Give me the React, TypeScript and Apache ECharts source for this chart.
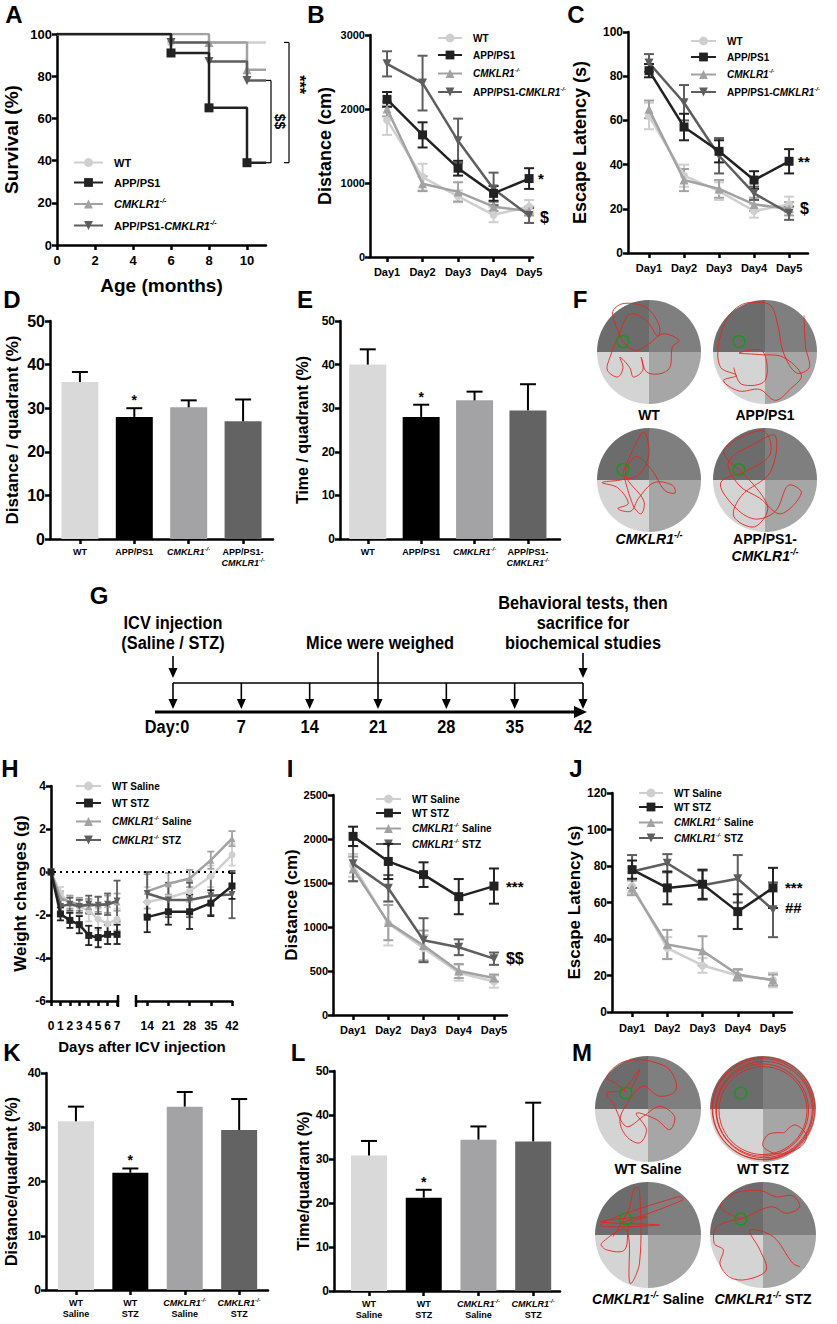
import React, { useEffect, useRef } from 'react';
import * as echarts from 'echarts';

const FONT = "'Liberation Sans', Arial, Helvetica, sans-serif";

/* ======================= DATA ======================= */
// A – survival (%), Kaplan–Meier steps [month, value]
const monthTicks = [0, 2, 4, 6, 8, 10];
const survWT = [[0, 100], [6, 96], [11, 96]];
const survAPP = [[0, 100], [6, 91], [8, 65], [10, 39], [11, 39]];
const survKO = [[0, 100], [8, 96], [10, 83], [11, 83]];
const survDKO = [[0, 100], [6, 96], [8, 87], [10, 78], [11, 78]];

const groupsA = ['WT', 'APP/PS1', 'CMKLR1-/-', 'APP/PS1-CMKLR1-/-'];
const groupsH = ['WT Saline', 'WT STZ', 'CMKLR1-/- Saline', 'CMKLR1-/- STZ'];
const trainDays = [1, 2, 3, 4, 5];
const dayLabels = ['Day1', 'Day2', 'Day3', 'Day4', 'Day5'];

// B – distance (cm)
const bWT = [1850, 1080, 820, 570, 680];
const bWTe = [200, 180, 80, 100, 90];
const bAPP = [2130, 1650, 1200, 860, 1060];
const bAPPe = [100, 170, 100, 100, 140];
const bKO = [2000, 990, 880, 680, 620];
const bKOe = [100, 100, 130, 60, 60];
const bDKO = [2610, 2350, 1570, 920, 560];
const bDKOe = [170, 370, 300, 220, 100];

// C – escape latency (s)
const cWT = [62, 35, 28, 19, 22];
const cWTe = [6, 5, 4, 3, 3.5];
const cAPP = [82.5, 57, 46, 33, 41.5];
const cAPPe = [3, 6, 5, 4, 5.5];
const cKO = [65, 33, 29, 22, 20];
const cKOe = [4, 5, 4, 3, 3];
const cDKO = [86, 68, 44, 27, 18];
const cDKOe = [4, 8, 8, 3, 3];

// D / E – bars
const catsDE = ['WT', 'APP/PS1', 'CMKLR1-/-', 'APP/PS1-\nCMKLR1-/-'];
const dVals = [36, 28, 30.2, 27];
const dErr = [2.3, 2, 1.6, 5];
const eVals = [40, 28, 31.8, 29.5];
const eErr = [3.5, 2.8, 2, 6];

// G – timeline
const timelineDays = [0, 7, 14, 21, 28, 35, 42];
const timelineLabels = ['Day:0', '7', '14', '21', '28', '35', '42'];

// H – weight changes (g)
const hDaysA = [0, 1, 2, 3, 4, 5, 6, 7];
const hDaysB = [14, 21, 28, 35, 42];
const hDaysBTicks = [14, 21, 28, 35, 42];
const hWTSalA = [0, -1.0, -1.5, -1.6, -1.8, -2.2, -2.4, -2.2];
const hWTSalAe = [0, 0.3, 0.4, 0.4, 0.5, 0.5, 0.5, 0.5];
const hWTSalB = [-1.4, -1.2, -0.9, -0.2, 0.8];
const hWTSalBe = [0.7, 0.6, 0.5, 0.5, 0.5];
const hWTSTZA = [0, -1.95, -2.25, -2.45, -2.95, -3.05, -2.9, -2.9];
const hWTSTZAe = [0, 0.3, 0.35, 0.4, 0.45, 0.45, 0.45, 0.45];
const hWTSTZB = [-2.1, -1.85, -1.85, -1.45, -0.65];
const hWTSTZBe = [0.7, 0.6, 0.8, 0.6, 0.6];
const hKOSalA = [0, -1.2, -1.4, -1.5, -1.6, -1.5, -1.5, -1.4];
const hKOSalAe = [0, 0.3, 0.3, 0.3, 0.35, 0.35, 0.4, 0.4];
const hKOSalB = [-0.9, -0.55, -0.3, 0.55, 1.55];
const hKOSalBe = [0.8, 0.5, 0.4, 0.4, 0.35];
const hKOSTZA = [0, -1.6, -1.5, -1.6, -1.5, -1.55, -1.5, -1.35];
const hKOSTZAe = [0, 0.3, 0.3, 0.3, 0.4, 0.4, 0.5, 0.95];
const hKOSTZB = [-1.0, -1.3, -1.3, -1.1, -1.05];
const hKOSTZBe = [1.0, 0.8, 0.8, 0.9, 1.1];

// I – distance (cm)
const iWTSal = [1700, 1040, 760, 480, 380];
const iWTSale = [130, 250, 150, 90, 70];
const iWTSTZ = [2030, 1745, 1595, 1345, 1465];
const iWTSTZe = [110, 200, 140, 200, 200];
const iKOSal = [1660, 1050, 790, 500, 420];
const iKOSale = [140, 200, 170, 80, 40];
const iKOSTZ = [1720, 1440, 850, 770, 640];
const iKOSTZe = [200, 150, 250, 90, 70];

// J – escape latency (s)
const jWTSal = [69, 35, 25.5, 20, 17.5];
const jWTSale = [4, 6, 4, 3, 4];
const jWTSTZ = [78, 68, 70, 55, 68];
const jWTSTZe = [5, 9, 8, 9.5, 11];
const jKOSal = [68, 37, 33.5, 20.5, 17.5];
const jKOSale = [4, 8, 8, 3, 3];
const jKOSTZ = [77, 81.5, 69.5, 73, 56];
const jKOSTZe = [9, 5, 8, 13, 15];

// K / L – bars
const catsKL = ['WT\nSaline', 'WT\nSTZ', 'CMKLR1-/-\nSaline', 'CMKLR1-/-\nSTZ'];
const kVals = [31.1, 21.6, 33.8, 29.5];
const kErr = [2.7, 0.8, 2.7, 5.7];
const lVals = [30.8, 21.2, 34.4, 34];
const lErr = [3.3, 1.8, 3, 8.8];

// F / M – swim paths (unit-circle coordinates)
const platformF = [-0.5, -0.2];
const platformM = [-0.42, -0.3];
const trajWT_F = [[-0.5, -0.2], [-0.7, -0.75], [-0.5, -0.93], [-0.05, -0.85], [0.2, -0.5], [0.17, -0.3], [-0.05, -0.6], [-0.37, -0.73], [-0.56, -0.38], [-0.75, 0.1], [-0.8, 0.35], [-0.6, 0.48], [-0.5, 0.3], [-0.56, 0.1], [-0.37, 0.3], [-0.3, 0.48], [-0.12, 0.35], [-0.15, 0.1], [-0.05, 0.38], [0.2, 0.42], [0.4, 0.3], [0.45, -0.1], [0.58, -0.22], [0.27, -0.35], [0.0, -0.16], [-0.27, -0.03], [-0.5, -0.2]];
const trajAPP_F = [[0.75, -0.7], [0.78, -0.1], [0.85, 0.3], [0.6, 0.4], [0.35, 0.0], [0.25, -0.5], [0.1, -0.9], [-0.3, -0.95], [-0.55, -0.85], [-0.75, -0.6], [-0.9, -0.1], [-0.85, 0.3], [-0.55, 0.45], [-0.8, 0.55], [-0.5, 0.75], [-0.1, 0.72], [0.2, 0.93], [0.5, 0.7], [0.7, 0.45], [0.35, 0.1], [-0.1, 0.05], [-0.5, 0.02], [-0.05, -0.02], [0.0, 0.55], [-0.45, 0.62], [-0.6, 0.3]];
const trajKO_F = [[-0.5, -0.15], [-0.3, -0.6], [-0.1, -0.92], [0.0, -0.5], [-0.2, -0.1], [-0.55, 0.0], [-0.9, 0.05], [-0.6, 0.15], [-0.4, 0.45], [-0.6, 0.55], [-0.35, 0.6], [-0.2, 0.35], [0.1, 0.05], [0.45, 0.1], [0.5, 0.25], [0.3, 0.2], [0.05, -0.2], [-0.25, -0.45], [-0.45, -0.1], [-0.1, 0.4], [-0.15, 0.65], [-0.3, 0.5], [-0.5, -0.15]];
const trajDKO_F = [[-0.5, -0.2], [-0.8, -0.55], [-0.4, -0.85], [0.0, -0.93], [0.1, -0.5], [-0.3, -0.2], [-0.85, 0.05], [-0.6, 0.5], [-0.2, 0.75], [0.2, 0.6], [0.45, 0.1], [0.7, 0.25], [0.3, 0.65], [-0.1, 0.35], [-0.5, 0.1], [-0.7, -0.35], [-0.2, -0.7], [0.2, -0.85], [0.1, -0.15], [-0.45, 0.3], [-0.6, 0.7], [-0.2, 0.9], [0.05, 0.5], [-0.5, -0.2]];
const trajWTSal_M = [[-0.41, -0.32], [-0.62, -0.49], [-0.78, -0.6], [-0.53, -0.86], [-0.22, -0.93], [0.09, -0.89], [0.41, -0.74], [0.53, -0.36], [0.22, -0.24], [-0.09, -0.43], [-0.34, -0.18], [-0.53, 0.2], [-0.41, 0.51], [-0.16, 0.64], [-0.03, 0.39], [-0.22, 0.08], [0.16, 0.2], [0.41, 0.39], [0.5, 0.14], [0.22, -0.05], [-0.09, 0.14], [-0.41, 0.33], [-0.66, -0.11], [-0.78, -0.3], [-0.47, -0.36], [-0.16, -0.74], [-0.34, -0.33]];
const trajWTSTZ_M = [[0.4, 0.45], [0.1, 0.48], [0.0, 0.7], [0.3, 0.85], [0.7, 0.72], [0.82, 0.5], [0.6, 0.3], [0.4, 0.45]];
const ringsWTSTZ_M = [[0, 0, 0.95], [0.02, 0.01, 0.91], [-0.01, 0.02, 0.87], [0.01, -0.01, 0.97], [0.0, 0.03, 0.83]];
const trajKOSal_M = [[-0.53, -0.22], [0.66, -0.66], [0.56, -0.72], [-0.9, -0.19], [0.22, -0.19], [-0.9, -0.25], [-0.03, -0.34], [-0.34, -0.22], [-0.44, 0.28], [-0.78, 0.28], [-0.88, 0.16], [-0.41, -0.09], [-0.34, 0.91], [-0.16, 0.53], [-0.16, -0.84], [-0.25, -0.9], [-0.37, -0.47], [-0.66, 0.03]];
const trajKOSTZ_M = [[-0.42, -0.3], [-0.81, -0.53], [-0.56, -0.78], [-0.06, -0.84], [0.25, -0.72], [0.56, -0.74], [0.69, -0.53], [0.44, -0.41], [0.19, -0.53], [-0.06, -0.47], [-0.31, -0.34], [-0.87, -0.16], [-0.92, 0.16], [-0.75, 0.28], [-0.81, 0.55], [-0.62, 0.8], [-0.31, 0.84], [0.06, 0.66], [-0.06, 0.28], [-0.25, -0.09], [0.19, 0.03], [0.56, 0.53], [0.7, 0.6]];

/* ======================= STYLE HELPERS ======================= */
const COLS = ['#cfcfcf', '#222222', '#a2a2a2', '#5e5e5e'];
const SYMS = ['circle', 'rect', 'triangle', 'triangle'];
const ROTS = [0, 0, 0, 180];
const SIZES = [8, 9, 9, 9];
const ZS = [2, 5, 3, 4];
const BAR_COLORS = ['#d9d9d9', '#000000', '#a3a3a6', '#636363'];

function richStyles(size: number) {
  const lh = Math.round(size * 1.25);
  return {
    b: { fontFamily: FONT, fontWeight: 'bold', fontSize: size, color: '#000', lineHeight: lh },
    i: { fontFamily: FONT, fontWeight: 'bold', fontStyle: 'italic', fontSize: size, color: '#000', lineHeight: lh },
    s: { fontFamily: FONT, fontWeight: 'bold', fontStyle: 'italic', fontSize: Math.max(6, Math.round(size * 0.62)), color: '#000', verticalAlign: 'top', lineHeight: Math.round(size * 0.7) },
  };
}
function richLine(name: string) {
  return name.split('CMKLR1-/-').map((p) => (p ? `{b|${p}}` : '')).join('{i|CMKLR1}{s|-/-}');
}
function richName(name: string) {
  return name.split('\n').map(richLine).join('\n');
}

const axisLine = { show: true, onZero: false, lineStyle: { color: '#000', width: 2.5 } };
const tick = { show: true, length: 5, lineStyle: { color: '#000', width: 2.5 } };
const plain = (v: number) => String(v);
function lbl(size: number, extra: any = {}) {
  return { color: '#000', fontFamily: FONT, fontWeight: 'bold', fontSize: size, formatter: plain, ...extra };
}
function yName(name: string, size: number, gap: number) {
  return {
    name, nameLocation: 'middle', nameGap: gap, nameRotate: 90,
    nameTextStyle: { fontFamily: FONT, fontWeight: 'bold', fontSize: size, color: '#000', verticalAlign: 'middle', align: 'center' },
  };
}

function lineSeries(ai: number, name: string, g: number, xs: number[], ys: number[], extra: any = {}) {
  return {
    type: 'line', name, xAxisIndex: ai, yAxisIndex: ai,
    data: xs.map((x, i) => [x, ys[i]]),
    symbol: SYMS[g], symbolRotate: ROTS[g], symbolSize: SIZES[g], showAllSymbol: true,
    lineStyle: { color: COLS[g], width: 2.5 }, itemStyle: { color: COLS[g] }, z: ZS[g] + 10,
    ...extra,
  };
}
function errSeries(ai: number, xs: number[], ys: number[], es: number[], color: string, opts: any = {}) {
  const cap = opts.cap ?? 10;
  const lw = opts.width ?? 2;
  return {
    type: 'custom', xAxisIndex: ai, yAxisIndex: ai, silent: true, clip: false, z: opts.z ?? 5,
    encode: { x: 0, y: 1 },
    data: xs.map((x, i) => [x, ys[i], es[i]]),
    renderItem: (_p: any, api: any) => {
      const x = api.value(0), y = api.value(1), e = api.value(2);
      if (!e) return { type: 'group', children: [] };
      const t = api.coord([x, y + e]);
      const b = api.coord([x, opts.up ? y : y - e]);
      const st = { stroke: color, lineWidth: lw };
      const ch: any[] = [
        { type: 'line', shape: { x1: t[0], y1: t[1], x2: b[0], y2: b[1] }, style: st },
        { type: 'line', shape: { x1: t[0] - cap / 2, y1: t[1], x2: t[0] + cap / 2, y2: t[1] }, style: st },
      ];
      if (!opts.up) ch.push({ type: 'line', shape: { x1: b[0] - cap / 2, y1: b[1], x2: b[0] + cap / 2, y2: b[1] }, style: st });
      return { type: 'group', children: ch };
    },
  };
}
function legendComp(names: string[], left: number, top: number, gap: number, size: number, w: number) {
  return {
    orient: 'vertical', left, top, padding: 0, itemWidth: w, itemHeight: 11, itemGap: gap,
    selectedMode: false, data: names,
    formatter: (n: string) => richName(n),
    textStyle: { fontSize: size, fontWeight: 'bold', fontFamily: FONT, color: '#000', padding: [0, 0, 0, 6], rich: richStyles(size) },
  };
}

/* ======================= OPTION ======================= */
const panels: Record<string, number> = {};

function buildOption() {
  const opt: any = { animation: false, backgroundColor: '#fff', grid: [], xAxis: [], yAxis: [], series: [], legend: [] };
  const add = (key: string, g: any, x: any, y: any) => {
    opt.grid.push({ ...g });
    const i = opt.grid.length - 1;
    opt.xAxis.push({ gridIndex: i, axisLine, splitLine: { show: false }, ...x });
    opt.yAxis.push({ gridIndex: i, axisLine, splitLine: { show: false }, ...y });
    panels[key] = i;
    return i;
  };
  const dayX = (min: number, max: number, size: number, margin: number) => ({
    type: 'value', min, max,
    axisTick: { ...tick, customValues: trainDays },
    axisLabel: lbl(size, { customValues: trainDays, margin, formatter: (v: number) => dayLabels[v - 1] }),
  });
  const valY = (min: number, max: number, interval: number, size: number) => ({
    type: 'value', min, max, interval, axisTick: tick, axisLabel: lbl(size, { margin: 5 }),
  });
  const barX = (min: number, max: number, cats: string[], size: number) => ({
    type: 'value', min, max,
    axisTick: { ...tick, customValues: [1, 2, 3, 4] },
    axisLabel: { customValues: [1, 2, 3, 4], margin: 7, formatter: (v: number) => richName(cats[v - 1]), rich: richStyles(size), align: 'center' },
  });

  // ---- A ----
  const a = add('A', { left: 57, top: 34, width: 209, height: 211 },
    { type: 'value', min: 0, max: 11, axisTick: { ...tick, customValues: monthTicks }, axisLabel: lbl(13, { customValues: monthTicks, margin: 9 }),
      name: 'Age (months)', nameLocation: 'middle', nameGap: 40, nameTextStyle: { fontFamily: FONT, fontWeight: 'bold', fontSize: 19, color: '#000', verticalAlign: 'middle' } },
    { ...valY(0, 100, 20, 13), ...yName('Survival (%)', 19, 46) });
  [survWT, survAPP, survKO, survDKO].forEach((d, g) => {
    opt.series.push({
      ...lineSeries(a, groupsA[g], g, [], []),
      step: 'end',
      data: d.map((p, i) => (i === 0 || i === d.length - 1 ? { value: p, symbol: 'none' } : { value: p })),
    });
  });
  opt.legend.push(legendComp(groupsA, 73, 157, 9, 11, 29));

  // ---- B ----
  const b = add('B', { left: 370, top: 35, width: 163, height: 222 }, dayX(0.52, 5.11, 11, 9),
    { ...valY(0, 3000, 1000, 11), ...yName('Distance (cm)', 18, 45) });
  [[bWT, bWTe], [bAPP, bAPPe], [bKO, bKOe], [bDKO, bDKOe]].forEach(([v, e], g) => {
    opt.series.push(errSeries(b, trainDays, v, e, COLS[g], { z: ZS[g] + 5 }));
    opt.series.push(lineSeries(b, groupsA[g], g, trainDays, v));
  });
  opt.legend.push(legendComp(groupsA, 437, 33, 7, 10, 24));

  // ---- C ----
  const c = add('C', { left: 628, top: 32, width: 180, height: 221 }, dayX(0.4, 5.54, 11, 9),
    { ...valY(0, 100, 20, 12), ...yName('Escape Latency (s)', 18, 48) });
  [[cWT, cWTe], [cAPP, cAPPe], [cKO, cKOe], [cDKO, cDKOe]].forEach(([v, e], g) => {
    opt.series.push(errSeries(c, trainDays, v, e, COLS[g], { z: ZS[g] + 5 }));
    opt.series.push(lineSeries(c, groupsA[g], g, trainDays, v));
  });
  opt.legend.push(legendComp(groupsA, 690, 36, 6, 10, 25));

  // ---- D, E ----
  const barSeries = (ai: number, vals: number[]) => ({
    type: 'bar', xAxisIndex: ai, yAxisIndex: ai, barWidth: 37, z: 3,
    data: vals.map((v, i) => ({ value: [i + 1, v], itemStyle: { color: BAR_COLORS[i] } })),
  });
  const d = add('D', { left: 50, top: 321, width: 223, height: 218 }, barX(0.45, 4.55, catsDE, 9),
    { ...valY(0, 50, 10, 16), ...yName('Distance / quadrant (%)', 17, 38) });
  opt.series.push(barSeries(d, dVals));
  opt.series.push(errSeries(d, [1, 2, 3, 4], dVals, dErr, '#000', { up: true, cap: 16, z: 4 }));

  const e = add('E', { left: 340, top: 321, width: 220, height: 218 }, barX(0.48, 4.6, catsDE, 9),
    { ...valY(0, 50, 10, 12), ...yName('Time / quadrant (%)', 16, 38) });
  opt.series.push(barSeries(e, eVals));
  opt.series.push(errSeries(e, [1, 2, 3, 4], eVals, eErr, '#000', { up: true, cap: 16, z: 4 }));

  // ---- H (broken x axis: two grids) ----
  const h1 = add('H1', { left: 51, top: 786, width: 67, height: 215 },
    { type: 'value', min: 0, max: 7.1, axisTick: { ...tick, customValues: hDaysA }, axisLabel: lbl(12, { customValues: hDaysA, margin: 19 }) },
    { ...valY(-6, 4, 2, 12), ...yName('Weight changes (g)', 17, 31) });
  const h2 = add('H2', { left: 136, top: 786, width: 96, height: 215 },
    { type: 'value', min: 10.3, max: 42, axisTick: { ...tick, customValues: hDaysBTicks }, axisLabel: lbl(12, { customValues: hDaysBTicks, margin: 19 }) },
    { type: 'value', min: -6, max: 4, show: false });
  const hA = [[hWTSalA, hWTSalAe], [hWTSTZA, hWTSTZAe], [hKOSalA, hKOSalAe], [hKOSTZA, hKOSTZAe]];
  const hB = [[hWTSalB, hWTSalBe], [hWTSTZB, hWTSTZBe], [hKOSalB, hKOSalBe], [hKOSTZB, hKOSTZBe]];
  hA.forEach(([v, er], g) => {
    opt.series.push(errSeries(h1, hDaysA, v, er, COLS[g], { z: ZS[g] + 5, cap: 7, width: 1.8 }));
    opt.series.push(lineSeries(h1, groupsH[g], g, hDaysA, v, { symbolSize: 7 }));
  });
  hB.forEach(([v, er], g) => {
    opt.series.push(errSeries(h2, hDaysB, v, er, COLS[g], { z: ZS[g] + 5, cap: 7, width: 1.8 }));
    opt.series.push(lineSeries(h2, groupsH[g], g, hDaysB, v, { symbolSize: 7 }));
  });
  opt.legend.push(legendComp(groupsH, 75, 781, 7, 10, 25));

  // ---- I ----
  const iI = add('I', { left: 333, top: 795, width: 174, height: 220 }, dayX(0.43, 5.37, 11, 9),
    { ...valY(0, 2500, 500, 11), ...yName('Distance (cm)', 17, 41) });
  [[iWTSal, iWTSale], [iWTSTZ, iWTSTZe], [iKOSal, iKOSale], [iKOSTZ, iKOSTZe]].forEach(([v, er], g) => {
    opt.series.push(errSeries(iI, trainDays, v, er, COLS[g], { z: ZS[g] + 5 }));
    opt.series.push(lineSeries(iI, groupsH[g], g, trainDays, v));
  });
  opt.legend.push(legendComp(groupsH, 375, 794, 4, 10, 25));

  // ---- J ----
  const j = add('J', { left: 612, top: 793, width: 180, height: 219 }, dayX(0.43, 5.54, 11, 10),
    { ...valY(0, 120, 20, 12), ...yName('Escape Latency (s)', 17, 34) });
  [[jWTSal, jWTSale], [jWTSTZ, jWTSTZe], [jKOSal, jKOSale], [jKOSTZ, jKOSTZe]].forEach(([v, er], g) => {
    opt.series.push(errSeries(j, trainDays, v, er, COLS[g], { z: ZS[g] + 5 }));
    opt.series.push(lineSeries(j, groupsH[g], g, trainDays, v));
  });
  opt.legend.push(legendComp(groupsH, 638, 788, 4, 10, 24));

  // ---- K, L ----
  const k = add('K', { left: 46, top: 1073, width: 222, height: 217 }, barX(0.45, 4.53, catsKL, 9),
    { ...valY(0, 40, 10, 12), ...yName('Distance/quadrant (%)', 16, 35) });
  opt.series.push({ ...barSeries(k, kVals), barWidth: 36 });
  opt.series.push(errSeries(k, [1, 2, 3, 4], kVals, kErr, '#000', { up: true, cap: 16, z: 4 }));

  const l = add('L', { left: 334, top: 1071, width: 226, height: 220 }, barX(0.36, 4.49, catsKL, 9),
    { ...valY(0, 50, 10, 12), ...yName('Time/quadrant (%)', 16, 30) });
  opt.series.push({ ...barSeries(l, lVals), barWidth: 36 });
  opt.series.push(errSeries(l, [1, 2, 3, 4], lVals, lErr, '#000', { up: true, cap: 16, z: 4 }));

  return opt;
}

/* ======================= GRAPHICS ======================= */
function txt(x: number, y: number, text: string, size: number, extra: any = {}, sx: any = {}) {
  return {
    type: 'text', x, y, silent: true, z: 50, ...extra,
    style: { text, fontFamily: FONT, fontWeight: 'bold', fontSize: size, fill: '#000', align: 'center', verticalAlign: 'middle', ...sx },
  };
}
function richTxt(x: number, y: number, text: string, size: number) {
  return { type: 'text', x, y, silent: true, z: 50, style: { text: richName(text), rich: richStyles(size), align: 'center', verticalAlign: 'middle', fill: '#000' } };
}
function seg(x1: number, y1: number, x2: number, y2: number, w = 1.5, extra: any = {}) {
  return { type: 'line', silent: true, z: 50, shape: { x1, y1, x2, y2 }, style: { stroke: '#000', lineWidth: w, ...extra } };
}
function arrowDown(x: number, y1: number, y2: number) {
  return [
    seg(x, y1, x, y2 - 6, 1.6),
    { type: 'polygon', silent: true, z: 50, shape: { points: [[x - 4.5, y2 - 10], [x + 4.5, y2 - 10], [x, y2]] }, style: { fill: '#000' } },
  ];
}
function maze(cx: number, cy: number, r: number, traj: number[][], platform: number[], rings: number[][] = []) {
  const quad = (a0: number, a1: number, fill: string) => ({
    type: 'sector', silent: true, z: 40, shape: { cx, cy, r, r0: 0, startAngle: a0, endAngle: a1, clockwise: true }, style: { fill },
  });
  const pts = (t: number[][]) => t.map(([u, v]) => [cx + u * r, cy + v * r]);
  const out: any[] = [
    quad(Math.PI, 1.5 * Math.PI, '#6c6c6c'),
    quad(1.5 * Math.PI, 2 * Math.PI, '#7f7f7f'),
    quad(0, 0.5 * Math.PI, '#a6a6a6'),
    quad(0.5 * Math.PI, Math.PI, '#d4d4d4'),
  ];
  rings.forEach(([u, v, rr]) => out.push({ type: 'circle', silent: true, z: 42, shape: { cx: cx + u * r, cy: cy + v * r, r: rr * r }, style: { fill: 'none', stroke: '#e3261f', lineWidth: 0.9 } }));
  if (traj.length) out.push({ type: 'polyline', silent: true, z: 42, shape: { points: pts(traj), smooth: 0.35 }, style: { stroke: '#e3261f', lineWidth: 0.9, fill: 'none' } });
  out.push({ type: 'circle', silent: true, z: 43, shape: { cx: cx + platform[0] * r, cy: cy + platform[1] * r, r: 6 }, style: { fill: 'none', stroke: '#169a16', lineWidth: 1.3 } });
  return out;
}

function buildGraphics(chart: any) {
  const px = (key: string, pt: number[]) => chart.convertToPixel({ gridIndex: panels[key] }, pt) as number[];
  const g: any[] = [];

  // panel letters
  const letters: [string, number, number][] = [
    ['A', 14, 14], ['B', 316, 14], ['C', 576, 14], ['D', 12, 299], ['E', 305, 299], ['F', 580, 299],
    ['G', 99, 595], ['H', 10, 768], ['I', 290, 768], ['J', 576, 768], ['K', 12, 1052], ['L', 298, 1052], ['M', 582, 1052],
  ];
  letters.forEach(([t, x, y]) => g.push(txt(x, y, t, 24)));

  // A – significance brackets
  const a78 = px('A', [11, 78]);
  const a39 = px('A', [11, 39]);
  const a96 = px('A', [11, 96]);
  const bx1 = a78[0] + 5;
  g.push(seg(bx1 - 5, a78[1], bx1, a78[1], 1.2), seg(bx1, a78[1], bx1, a39[1], 1.2), seg(bx1 - 5, a39[1], bx1, a39[1], 1.2));
  g.push(txt(bx1 + 9, (a78[1] + a39[1]) / 2, '$$', 14, { rotation: -Math.PI / 2 }));
  const bx2 = a78[0] + 23;
  g.push(seg(bx2 - 5, a96[1], bx2, a96[1], 1.2), seg(bx2, a96[1], bx2, a39[1], 1.2), seg(bx2 - 5, a39[1], bx2, a39[1], 1.2));
  g.push(txt(bx2 + 10, (a96[1] + a39[1]) / 2 - 18, '***', 16, { rotation: -Math.PI / 2 }));

  // line-chart annotations
  const note = (key: string, pt: number[], s: string, dx = 12, size = 14) => {
    const p = px(key, pt);
    g.push(txt(p[0] + dx, p[1], s, size, {}, { align: 'left' }));
  };
  note('B', [5, bAPP[4]], '*', 9, 15);
  note('B', [5, 540], '$', 11, 16);
  note('C', [5, cAPP[4]], '**', 9, 15);
  note('C', [5, 20], '$', 11, 16);
  note('I', [5, iWTSTZ[4]], '***', 12, 15);
  note('I', [5, iKOSTZ[4]], '$$', 12, 16);
  note('J', [5, jWTSTZ[4]], '***', 12, 15);
  note('J', [5, 57], '##', 12, 15);

  // bar stars
  const star = (key: string, v: number, e: number) => {
    const p = px(key, [2, v + e]);
    g.push(txt(p[0], p[1] - 8, '*', 14));
  };
  star('D', dVals[1], dErr[1]);
  star('E', eVals[1], eErr[1]);
  star('K', kVals[1], kErr[1]);
  star('L', lVals[1], lErr[1]);

  // H – dotted zero line, break marks, x title
  const z0 = px('H1', [0, 0]);
  const z1 = px('H2', [42, 0]);
  g.push(seg(z0[0] + 3, z0[1], z1[0], z1[1], 2.2, { lineDash: [2, 4] }));
  const e1 = px('H1', [7.1, -6]);
  const e2 = px('H2', [10.3, -6]);
  g.push(seg(e1[0], e1[1] - 6, e1[0], e1[1] + 6, 2.5), seg(e2[0], e2[1] - 6, e2[0], e2[1] + 6, 2.5));
  g.push(txt(142, 1046, 'Days after ICV injection', 15));

  // F – maze tracks
  g.push(...maze(649, 352, 52, trajWT_F, platformF));
  g.push(...maze(765, 352, 52, trajAPP_F, platformF));
  g.push(...maze(649, 480, 52, trajKO_F, platformF));
  g.push(...maze(765, 480, 52, trajDKO_F, platformF));
  g.push(txt(649, 415, 'WT', 14), txt(765, 415, 'APP/PS1', 14));
  g.push(richTxt(649, 539, 'CMKLR1-/-', 14), txt(765, 539, 'APP/PS1-', 14), richTxt(765, 556, 'CMKLR1-/-', 14));

  // M – maze tracks
  g.push(...maze(648, 1109, 53, trajWTSal_M, platformM));
  g.push(...maze(763, 1109, 53, trajWTSTZ_M, platformM, ringsWTSTZ_M));
  g.push(...maze(648, 1235, 53, trajKOSal_M, platformM));
  g.push(...maze(763, 1235, 53, trajKOSTZ_M, platformM));
  g.push(txt(648, 1169, 'WT Saline', 14), txt(763, 1169, 'WT STZ', 14));
  g.push(richTxt(648, 1299, 'CMKLR1-/- Saline', 14), richTxt(763, 1299, 'CMKLR1-/- STZ', 14));

  // G – timeline (condensed bold text)
  const gx = (d: number) => 173 + d * (410 / 42);
  const nt = (x: number, y: number, s: string) => txt(x, y, s, 19, { scaleX: 0.86 });
  g.push(nt(gx(0), 623, 'ICV injection'), nt(gx(0), 643, '(Saline / STZ)'));
  g.push(nt(gx(21) + 2, 643, 'Mice were weighed'));
  g.push(nt(gx(42), 603, 'Behavioral tests, then'), nt(gx(42), 623, 'sacrifice for'), nt(gx(42), 643, 'biochemical studies'));
  g.push(...arrowDown(gx(0), 656, 678));
  g.push(...arrowDown(gx(42), 653, 678));
  g.push(seg(gx(21), 652, gx(21), 684, 1.6));
  g.push(seg(gx(0), 683, gx(42), 683, 1.6));
  timelineDays.forEach((dd) => g.push(...arrowDown(gx(dd), 683, 709)));
  g.push(seg(155, 712, gx(42) - 4, 712, 3));
  g.push({ type: 'polygon', silent: true, z: 50, shape: { points: [[gx(42) - 9, 706], [gx(42) - 9, 718], [gx(42) + 4, 712]] }, style: { fill: '#000' } });
  timelineDays.forEach((dd, i) => g.push(nt(gx(dd) - (i === 0 ? 6 : 0), 727, timelineLabels[i])));

  return g;
}

export default function App() {
  const ref = useRef<HTMLDivElement>(null);
  useEffect(() => {
    const chart = echarts.init(ref.current as HTMLDivElement, null, { renderer: 'svg' });
    chart.setOption(buildOption());
    chart.setOption({ graphic: buildGraphics(chart) });
    return () => chart.dispose();
  }, []);
  return <div ref={ref} style={{ position: 'absolute', left: 0, top: 0, width: 837, height: 1324, background: '#fff' }} />;
}
